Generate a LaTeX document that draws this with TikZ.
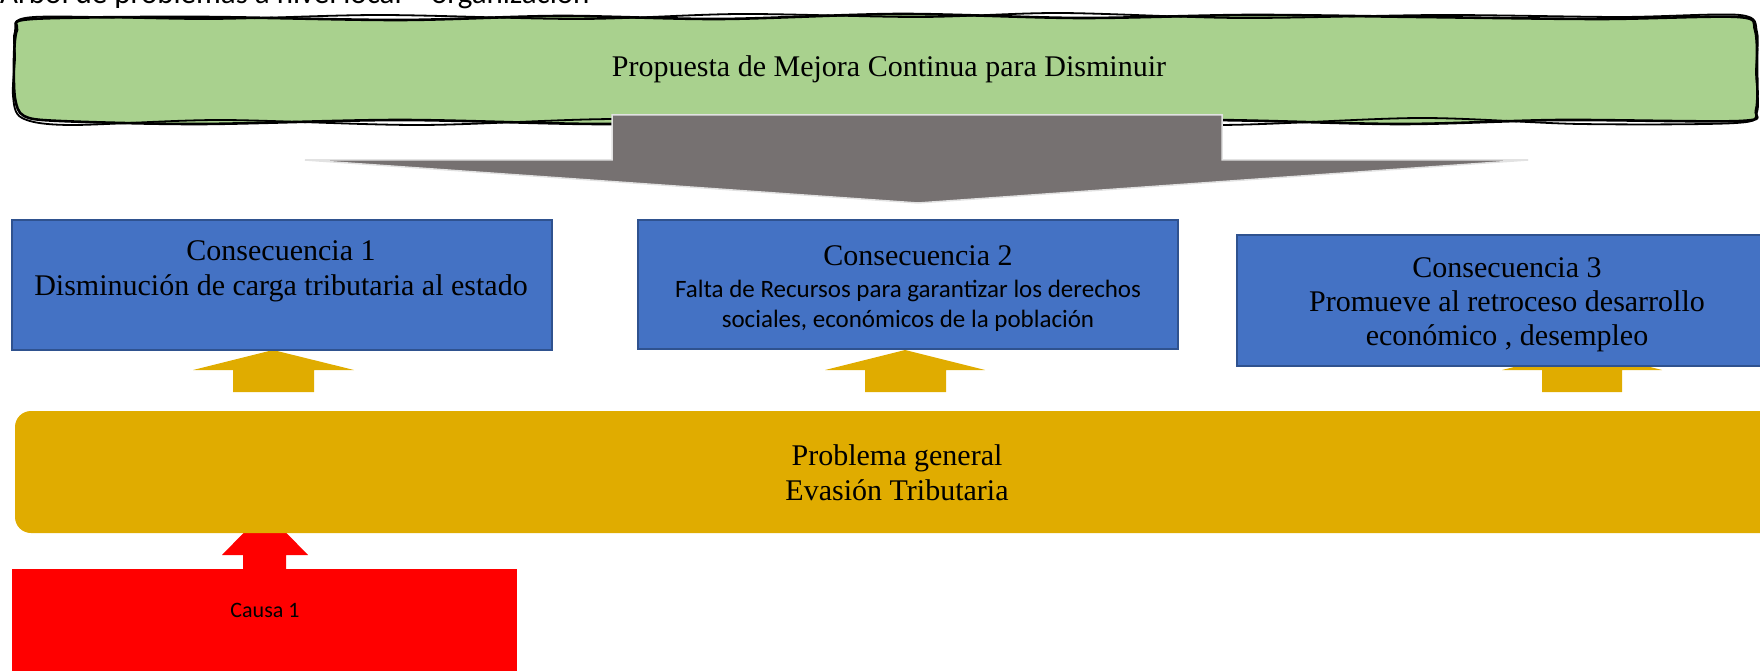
\documentclass[tikz,border=0pt]{standalone}
\usepackage{fontspec}
\setmainfont{Liberation Serif}
\newfontfamily\calib{Carlito}
\definecolor{greenfill}{HTML}{A9D18E}
\definecolor{bluefill}{HTML}{4472C4}
\definecolor{blueedge}{HTML}{2F528F}
\definecolor{goldfill}{HTML}{E0AC00}
\definecolor{grayfill}{HTML}{767171}
\definecolor{grayedge}{HTML}{E2E2E2}
\definecolor{redfill}{HTML}{FF0000}
\tikzset{
  conbox/.style={draw=blueedge, line width=2pt, fill=bluefill},
  sertxt/.style={inner sep=0pt, anchor=base, font=\fontsize{30}{36}\selectfont},
  santxt/.style={inner sep=0pt, anchor=base, font=\calib\fontsize{25}{31}\selectfont},
  goldarrow/.style={fill=goldfill, draw=none},
  sketch/.style={line width=2.6pt, black, line join=round},
}
\begin{document}
\begin{tikzpicture}[x=1pt, y=-1pt]
\useasboundingbox (0,0) rectangle (1760,671);
\clip (0,0) rectangle (1760,671);

% title (cut by the top edge)
\node[inner sep=0pt, anchor=base west, font=\calib\fontsize{31}{37}\selectfont] (title) at (0,4) {Árbol de problemas a nivel local – organización};

% green sketchy box
\fill[greenfill] plot[smooth cycle, tension=0.5] coordinates {
  (32,19) (200,17) (400,20) (560,16) (720,19) (900,14) (1080,18) (1250,15)
  (1420,17) (1600,19) (1738,17) (1755,30) (1757,70) (1756,110) (1740,121)
  (1560,120) (1400,124) (1200,120) (1000,125) (800,121) (600,124) (400,120)
  (200,124) (60,121) (24,116) (15,98) (14,60) (17,30)};
\draw[sketch] plot[smooth cycle, tension=0.5] coordinates {
  (32,19) (200,17) (400,20) (560,16) (720,19) (900,14) (1080,18) (1250,15)
  (1420,17) (1600,19) (1738,17) (1755,30) (1757,70) (1756,110) (1740,121)
  (1560,120) (1400,124) (1200,120) (1000,125) (800,121) (600,124) (400,120)
  (200,124) (60,121) (24,116) (15,98) (14,60) (17,30)};
\draw[sketch, line width=1.8pt] plot[smooth cycle, tension=0.5] coordinates {
  (34,17) (210,19) (380,15) (580,19) (740,14) (920,17) (1060,13) (1240,18)
  (1440,15) (1620,17) (1740,15) (1757,32) (1756,72) (1757,112) (1736,123)
  (1580,124) (1420,118) (1220,125) (1020,120) (820,126) (620,119) (420,125)
  (220,120) (70,125) (22,118) (13,96) (15,58) (15,32)};
\node[coordinate] (green) at (886,70) {};
\node[sertxt] (prop) at (889,77) {Propuesta de Mejora Continua para Disminuir};

% gray block arrow
\fill[grayfill, draw=grayedge, line width=1.5pt]
  (612,115) -- (1222,115) -- (1222,160) -- (1528,160) -- (918,203)
  -- (305,160) -- (612,160) -- cycle;

% gold arrows
\fill[goldarrow] (273,350) -- (354,370) -- (314,370) -- (314,392) -- (233,392) -- (233,370) -- (193,370) -- cycle;
\fill[goldarrow] (905,350) -- (985,370) -- (946,370) -- (946,392) -- (865,392) -- (865,370) -- (825,370) -- cycle;
\fill[goldarrow] (1582,350) -- (1662,370) -- (1622,370) -- (1622,392) -- (1542,392) -- (1542,370) -- (1502,370) -- cycle;

% consequence boxes
\node[conbox, minimum width=540pt, minimum height=130pt, inner sep=0pt] (c1) at (282,285) {};
\node[conbox, minimum width=540pt, minimum height=129pt, inner sep=0pt] (c2) at (908,284.5) {};
\node[conbox, minimum width=540pt, minimum height=131pt, inner sep=0pt] (c3) at (1507,300.5) {};

\node[sertxt] (c1a) at (281,260) {Consecuencia 1};
\node[sertxt] (c1b) at (281,295) {Disminución de carga tributaria al estado};

\node[sertxt] (c2a) at (918,265) {Consecuencia 2};
\node[santxt] (c2b) at (908,297) {Falta de Recursos para garantizar los derechos};
\node[santxt] (c2c) at (908,327) {sociales, económicos de la población};

\node[sertxt] (c3a) at (1507,277) {Consecuencia 3};
\node[sertxt] (c3b) at (1507,311) {Promueve al retroceso desarrollo};
\node[sertxt] (c3c) at (1507,345) {económico , desempleo};

% red arrow (tip hidden under the band)
\fill[redfill] (265,511) -- (308,555) -- (286,555) -- (286,571) -- (243,571) -- (243,555) -- (222,555) -- cycle;

% general problem band
\fill[goldfill, rounded corners=16pt] (15,411) rectangle (1800,533);
\node[coordinate] (band) at (895,472) {};
\node[sertxt] (pa) at (897,465) {Problema general};
\node[sertxt] (pb) at (897,500) {Evasión Tributaria};

% cause box
\fill[redfill] (12,569) rectangle (517,700);
\node[inner sep=0pt, anchor=base, font=\calib\fontsize{22}{26}\selectfont] (causa) at (265,617) {Causa 1};
\end{tikzpicture}
\end{document}
